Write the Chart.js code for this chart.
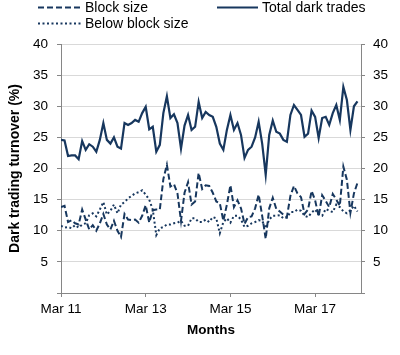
<!DOCTYPE html>
<html>
<head>
<meta charset="utf-8">
<script src="https://cdn.jsdelivr.net/npm/chart.js@4.4.1/dist/chart.umd.min.js"></script>
<style>
  html, body { margin: 0; padding: 0; background: #fff; }
  #wrap { width: 400px; height: 355px; position: relative; }
</style>
</head>
<body>
<div id="wrap"><canvas id="c" width="400" height="355"></canvas></div>
<script>
// ---- Data (monthly, Mar 2011 = index 0) ----
const X_TICKS = [0, 24, 48, 72];
const X_TICK_LABELS = ['Mar 11', 'Mar 13', 'Mar 15', 'Mar 17'];
const X_MAX = 85;

const TOTAL = [24.6,24.5,22.0,22.1,22.1,21.5,24.4,23.0,23.9,23.5,
               22.7,24.6,27.3,24.6,24.0,25.0,23.5,23.2,27.3,27.0,
               27.3,27.8,27.5,28.9,29.9,26.3,26.7,22.7,23.8,28.9,
               31.6,28.1,28.7,27.3,23.2,26.9,28.6,26.2,26.7,30.7,
               28.1,29.1,28.6,28.3,26.7,24.0,23.0,26.2,28.6,26.2,
               27.3,25.4,21.7,23.0,23.5,25.0,27.5,24.0,19.0,25.4,
               27.7,25.9,25.6,24.6,24.3,28.6,30.2,29.4,28.6,25.1,
               25.6,29.3,28.3,24.9,28.1,28.3,27.0,28.9,30.2,27.8,
               33.1,31.0,26.2,30.0,30.8];

const BLOCK = [13.8,14.0,11.4,11.7,11.2,11.0,13.4,11.8,10.2,10.9,
               10.0,11.2,12.7,11.0,10.2,11.6,10.0,9.0,12.7,11.8,
               11.7,11.8,11.3,12.4,14.1,11.3,13.3,13.4,13.4,18.3,
               20.6,17.1,17.5,16.0,11.6,16.1,17.8,14.2,14.7,19.3,
               16.7,17.3,17.2,16.1,14.7,14.4,11.6,14.2,17.3,13.8,
               14.9,13.6,11.1,12.2,12.3,13.6,15.8,12.4,8.7,13.6,
               15.3,13.5,13.1,12.6,12.2,15.6,17.2,16.0,15.4,12.7,
               13.4,16.4,14.9,12.3,15.7,14.8,13.8,15.9,15.0,14.0,
               20.3,18.2,12.9,16.0,17.7];

const BELOW = [10.8,10.5,10.6,10.4,10.9,10.5,11.0,11.2,12.5,12.8,
               12.3,13.4,14.6,12.6,13.2,14.2,12.8,14.2,14.6,15.2,
               15.6,16.0,16.2,16.5,15.8,15.0,13.4,9.3,10.4,10.6,
               11.0,11.0,11.2,11.3,11.6,10.8,10.8,12.0,12.0,11.4,
               11.4,11.8,11.4,12.2,12.0,9.6,11.4,12.0,11.3,12.4,
               12.4,11.8,10.6,10.8,11.2,11.4,11.7,11.6,10.4,11.8,
               12.4,12.4,12.5,12.0,12.1,13.0,13.0,13.4,13.2,12.4,
               12.2,12.9,13.4,12.6,12.4,13.5,13.2,13.0,14.2,13.8,
               13.1,12.8,13.3,14.0,13.1];

const toXY = arr => arr.map((v, i) => ({ x: i, y: v }));

const NAVY = '#17375E';
const AXIS = '#868686';
const GRID = '#d9d9d9';
const FONT = 'Liberation Sans, Arial, Helvetica, sans-serif';

Chart.defaults.font.family = FONT;
Chart.defaults.color = '#000';

const legendPlugin = {
  id: 'customLegend',
  afterDraw(chart) {
    const ctx = chart.ctx;
    const items = [
      { ds: 1, x0: 38, x1: 82, tx: 85, y: 7 },
      { ds: 2, x0: 38, x1: 82, tx: 85, y: 23 },
      { ds: 0, x0: 217, x1: 258, tx: 262, y: 7 }
    ];
    ctx.save();
    items.forEach(it => {
      const d = chart.data.datasets[it.ds];
      ctx.beginPath();
      ctx.strokeStyle = d.borderColor;
      ctx.lineWidth = d.borderWidth;
      ctx.setLineDash(d.borderDash || []);
      ctx.moveTo(it.x0, it.y + 0.5);
      ctx.lineTo(it.x1, it.y + 0.5);
      ctx.stroke();
      ctx.setLineDash([]);
      ctx.fillStyle = '#000';
      ctx.font = '14px ' + FONT;
      ctx.textAlign = 'left';
      ctx.textBaseline = 'middle';
      ctx.fillText(d.label, it.tx, it.y + 1);
    });
    ctx.restore();
  }
};

new Chart(document.getElementById('c'), {
  type: 'line',
  data: {
    datasets: [
      { label: 'Total dark trades', data: toXY(TOTAL), borderColor: NAVY, borderWidth: 2.2,
        pointRadius: 0, tension: 0, fill: false, yAxisID: 'y' },
      { label: 'Block size', data: toXY(BLOCK), borderColor: NAVY, borderWidth: 2,
        borderDash: [6, 3], pointRadius: 0, tension: 0, fill: false, yAxisID: 'y' },
      { label: 'Below block size', data: toXY(BELOW), borderColor: NAVY, borderWidth: 2,
        borderDash: [2, 2.5], pointRadius: 0, tension: 0, fill: false, yAxisID: 'y' }
    ]
  },
  options: {
    responsive: false,
    animation: false,
    devicePixelRatio: 1,
    layout: { padding: { top: 44, left: 0, right: 0, bottom: 0 } },
    plugins: { legend: { display: false }, tooltip: { enabled: false } },
    scales: {
      x: {
        type: 'linear', position: 'bottom', min: 0, max: X_MAX,
        afterBuildTicks: s => { s.ticks = X_TICKS.map(v => ({ value: v })); },
        afterFit: s => { s.height = 62; },
        ticks: {
          autoSkip: false, maxRotation: 0, padding: 4,
          font: { size: 13.5 },
          callback: v => { const i = X_TICKS.indexOf(v); return i >= 0 ? X_TICK_LABELS[i] : ''; }
        },
        grid: { drawOnChartArea: false, drawTicks: true, tickLength: 4, tickColor: AXIS },
        border: { display: true, color: AXIS, width: 1 },
        title: { display: true, text: 'Months', font: { size: 13.5, weight: 'bold' },
                 padding: { top: 0, bottom: 17 } }
      },
      y: {
        position: 'left', min: 0, max: 40,
        afterFit: s => { s.width = 61; },
        ticks: { stepSize: 5, padding: 9, font: { size: 13.5 },
                 callback: v => v === 0 ? '' : v },
        grid: { color: c => (c.tick && c.tick.value === 0) ? 'rgba(0,0,0,0)' : GRID,
                tickLength: 4, tickColor: AXIS },
        border: { display: true, color: AXIS, width: 1 },
        title: { display: true, text: 'Dark trading turnover (%)',
                 font: { size: 14, weight: 'bold' }, padding: { top: 7, bottom: 0 } }
      },
      y2: {
        position: 'right', min: 0, max: 40,
        afterFit: s => { s.width = 39; },
        ticks: { stepSize: 5, padding: 8, font: { size: 13.5 },
                 callback: v => v === 0 ? '' : v },
        grid: { drawOnChartArea: false, tickLength: 4, tickColor: AXIS },
        border: { display: true, color: AXIS, width: 1 }
      }
    }
  },
  plugins: [legendPlugin]
});
</script>
</body>
</html>
